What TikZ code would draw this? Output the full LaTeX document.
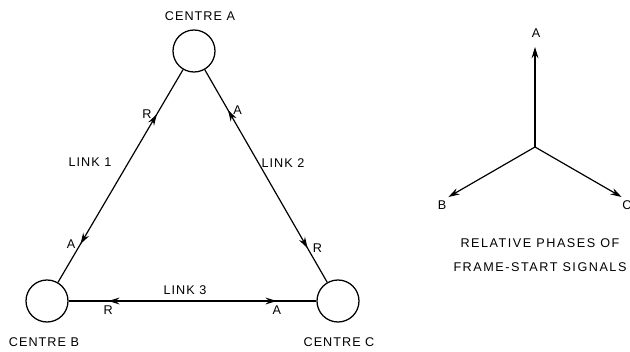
\documentclass[tikz,border=0pt]{standalone}
\usepackage{fontspec}
\setmainfont[LetterSpace=8]{Liberation Sans}
\usetikzlibrary{arrows.meta}
\usetikzlibrary{decorations.markings}

\tikzset{
  centre/.style={draw, circle, line width=0.9pt, minimum size=1.05cm, inner sep=0pt},
  link/.style 2 args={line width=0.85pt, postaction={decorate}, decoration={markings,
      mark=at position #1 with {\arrowreversed{Stealth[length=2.8mm,width=1.7mm]}},
      mark=at position #2 with {\arrow{Stealth[length=2.8mm,width=1.7mm]}}}},
  phase/.style={line width=0.85pt, -{Stealth[length=2.8mm,width=1.7mm]}}
}

\begin{document}
\begin{tikzpicture}[x=0.25cm, y=0.25cm, every node/.style={font=\fontsize{9}{17}\selectfont}]
\useasboundingbox (0,0) rectangle (63,35.2);

\node[centre] (A) at (19.4,30.1) {};
\node[centre] (B) at (4.7,5.1) {};
\node[centre] (C) at (33.8,5.1) {};

\node (labA) at (20.0,33.6) {CENTRE A};
\node (labB) at (4.4,1.0) {CENTRE B};
\node (labC) at (33.9,1.0) {CENTRE C};

\draw[link={0.21}{0.82}] (A) -- node[pos=0.21, left] (r1) {R} node[pos=0.82, left] (a1) {A} (B);
\draw[link={0.19}{0.84}] (A) -- node[pos=0.19, right] (a2) {A} node[pos=0.84, right] (r2) {R} (C);
\draw[link={0.16}{0.84}] (B) -- node[pos=0.16, below] (r3) {R} node[pos=0.84, below] (a3) {A} (C);

\node (link1) at (9.0,19.0) {LINK 1};
\node (link2) at (28.3,18.9) {LINK 2};
\node (link3) at (18.5,6.2) {LINK 3};

\begin{scope}[shift={(53.5,20.5)}]
\coordinate (O) at (0,0);
\coordinate (tipA) at (90:10);
\coordinate (tipB) at (210:10);
\coordinate (tipC) at (330:10);
\draw[phase] (O) -- (tipA);
\draw[phase] (O) -- (tipB);
\draw[phase] (O) -- (tipC);
\node (phA) at (0.1,11.4) {A};
\node (phB) at (-9.3,-5.8) {B};
\node (phC) at (9.2,-5.8) {C};
\end{scope}

\node[align=center, font=\fontsize{9}{17}\selectfont\addfontfeature{LetterSpace=12}] (caption) at (54.0,9.7) {RELATIVE PHASES OF\\FRAME-START SIGNALS};
\end{tikzpicture}
\end{document}
